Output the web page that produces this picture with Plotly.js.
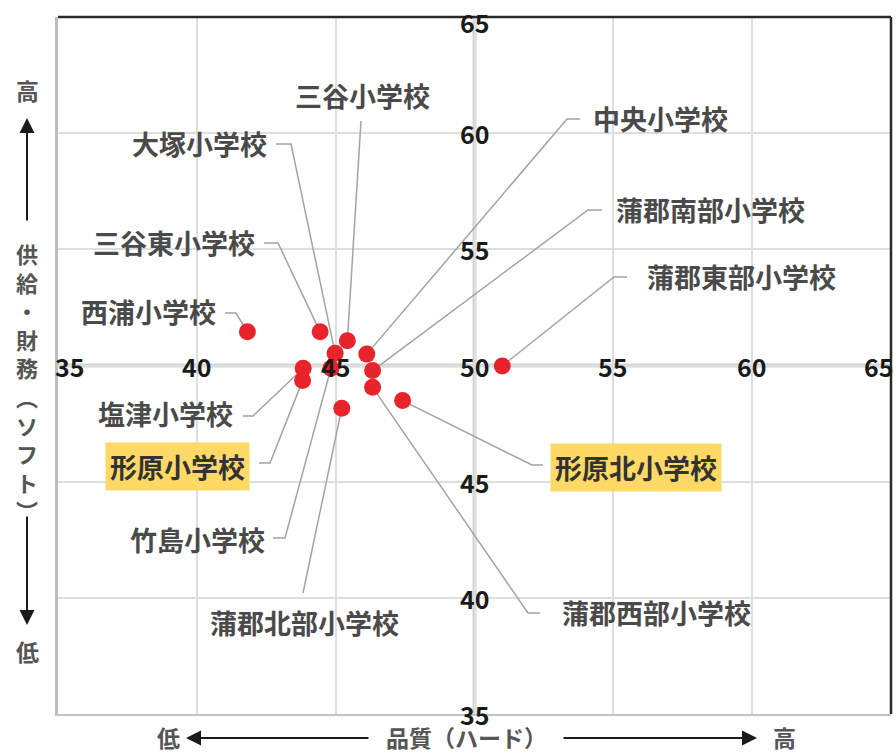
<!DOCTYPE html>
<html><head><meta charset="utf-8">
<script src="https://cdn.plot.ly/plotly-3.0.1.min.js"></script>
<style>body{margin:0;background:#fff}</style>
</head><body><div id="chart" style="width:896px;height:753px"></div>
<script>
// ---- data ----
const schools = ['三谷小学校','大塚小学校','中央小学校','蒲郡南部小学校','三谷東小学校','蒲郡東部小学校','西浦小学校','塩津小学校','形原小学校','形原北小学校','竹島小学校','蒲郡西部小学校','蒲郡北部小学校'];
const hard = [45.42, 44.98, 46.12, 46.33, 44.44, 51.00, 41.82, 43.83, 43.81, 47.41, 44.83, 46.33, 45.22];
const soft = [51.07, 50.53, 50.49, 49.78, 51.45, 49.98, 51.45, 49.88, 49.35, 48.49, 49.88, 49.06, 48.16];
const highlighted = ['形原小学校','形原北小学校'];
const xTicks = [35,40,45,50,55,60,65];
const yTicks = [65,60,55,45,40,35];
const center = 50;

// ---- layout geometry (pixels) ----
const W=896,H=753,M={l:58,r:5,t:17,b:39};
const PW=W-M.l-M.r, PH=H-M.t-M.b;
const XR=[35,65], YR=[35,65];
const dX=px=>XR[0]+(px-M.l)/PW*(XR[1]-XR[0]);
const dY=py=>YR[1]-(py-M.t)/PH*(YR[1]-YR[0]);
const pX=px=>(px-M.l)/PW;
const pY=py=>(H-M.b-py)/PH;

// label placement: text centre, leader end near label, elbow
const labelPos = {
 '三谷小学校':{t:[362,95], e:[361,121], b:null},
 '大塚小学校':{t:[199,143], e:[276,144], b:[291,144]},
 '中央小学校':{t:[660,118], e:[580,119], b:[567,119]},
 '蒲郡南部小学校':{t:[710,209], e:[602,210], b:[588,210]},
 '三谷東小学校':{t:[174,242], e:[264,243], b:[278,243]},
 '蒲郡東部小学校':{t:[741,276], e:[627,277], b:[614,277]},
 '西浦小学校':{t:[148,311], e:[225,313], b:[236,313]},
 '塩津小学校':{t:[165,413], e:[243,416], b:[253,416]},
 '形原小学校':{t:[177,466], e:[259,463], b:[270,463]},
 '形原北小学校':{t:[636,467], e:[543,465], b:[532,465]},
 '竹島小学校':{t:[197,539], e:[273,538], b:[285,538]},
 '蒲郡西部小学校':{t:[656,612], e:[540,613], b:[528,613]},
 '蒲郡北部小学校':{t:[304,622], e:[303,593], b:null}
};

const lx=[], ly=[];
schools.forEach((s,i)=>{
  const p=labelPos[s];
  lx.push(hard[i]); ly.push(soft[i]);
  if(p.b){lx.push(dX(p.b[0])); ly.push(dY(p.b[1]));}
  lx.push(dX(p.e[0])); ly.push(dY(p.e[1]));
  lx.push(null); ly.push(null);
});

const traces=[
 {x:lx,y:ly,mode:'lines',line:{color:'#a3a3a3',width:1.5},hoverinfo:'skip',showlegend:false},
 {x:hard,y:soft,text:schools,mode:'markers',marker:{size:17,color:'#e8232b'},showlegend:false}
];

const FONT='"Noto Sans CJK JP","Noto Sans",sans-serif';
const ann=[];
schools.forEach(s=>{
  const p=labelPos[s];
  const hl=highlighted.includes(s);
  ann.push({x:dX(p.t[0]),y:dY(p.t[1]),xref:'x',yref:'y',xanchor:'center',yanchor:'middle',
    text:'<b>'+s+'</b>',showarrow:false,
    font:{family:FONT,size:27,color:hl?'#333':'#4a4a4a'},
    bgcolor:hl?'#FFD966':'rgba(0,0,0,0)',borderpad:hl?4:0});
});
const tk={family:FONT,size:25,color:'#1a1a1a',weight:'bold'};
xTicks.forEach((v,i)=>{
  let xa='center', xs=0;
  if(i===0){xa='left';xs=-5;}
  if(i===xTicks.length-1){xa='right';xs=5;}
  ann.push({x:v,y:center,xref:'x',yref:'y',text:String(v),showarrow:false,xanchor:xa,yanchor:'middle',xshift:xs,font:tk});
});
yTicks.forEach((v,i)=>{
  let ys=0;
  if(v===YR[1]) ys=-5;
  ann.push({x:center,y:v,xref:'x',yref:'y',text:String(v),showarrow:false,xanchor:'center',yanchor:'middle',yshift:ys,font:tk});
});
// axis titles
const tf={family:FONT,size:23,color:'#555'};
const T=(px,py,txt,f)=>({x:pX(px),y:pY(py),xref:'paper',yref:'paper',xanchor:'center',yanchor:'middle',
  text:'<b>'+txt+'</b>',showarrow:false,font:f||tf});
ann.push(T(27,90,'高'));
ann.push(T(27,651,'低'));
ann.push(T(27,381,['供','給','・','財','務','︵','ソ','フ','ト','︶'].join('<br>'),{family:FONT,size:22,color:'#555'}));
ann.push(T(168,737,'低'));
ann.push(T(466,737,'品質（ハード）'));
ann.push(T(784,737,'高'));
const arr=(tx,ty,ax,ay)=>({x:pX(tx),y:pY(ty),xref:'paper',yref:'paper',text:'',showarrow:true,
  ax:ax,ay:ay,arrowhead:2,arrowsize:1.5,arrowwidth:2,arrowcolor:'#1a1a1a'});
ann.push(arr(27,118,0,104));
ann.push(arr(27,625,0,-110));
ann.push(arr(186,738,184,0));
ann.push(arr(757,738,-195,0));

const shapes=[
 {type:'line',xref:'x',yref:'paper',x0:center,x1:center,y0:0,y1:1,line:{color:'#d4d4d4',width:4},layer:'below'},
 {type:'line',xref:'paper',yref:'y',x0:0,x1:1,y0:center,y1:center,line:{color:'#d4d4d4',width:4},layer:'below'},
 {type:'line',xref:'paper',yref:'paper',x0:0,x1:1,y0:1,y1:1,line:{color:'#2a2a2a',width:2.5}},
 {type:'line',xref:'paper',yref:'paper',x0:1,x1:1,y0:0,y1:1,line:{color:'#2a2a2a',width:2.5}}
];

const layout={
 width:W,height:H,margin:M,paper_bgcolor:'#fff',plot_bgcolor:'#fff',
 xaxis:{range:XR,tickvals:xTicks,showticklabels:false,ticks:'',showgrid:true,gridcolor:'#dedede',gridwidth:2,
   zeroline:false,showline:true,linecolor:'#c4c4c4',linewidth:2},
 yaxis:{range:YR,tickvals:xTicks,showticklabels:false,ticks:'',showgrid:true,gridcolor:'#dedede',gridwidth:2,
   zeroline:false,showline:true,linecolor:'#bdbdbd',linewidth:3},
 annotations:ann,shapes:shapes,showlegend:false,hovermode:'closest'
};
Plotly.newPlot('chart',traces,layout,{displayModeBar:false,staticPlot:true});
</script></body></html>
